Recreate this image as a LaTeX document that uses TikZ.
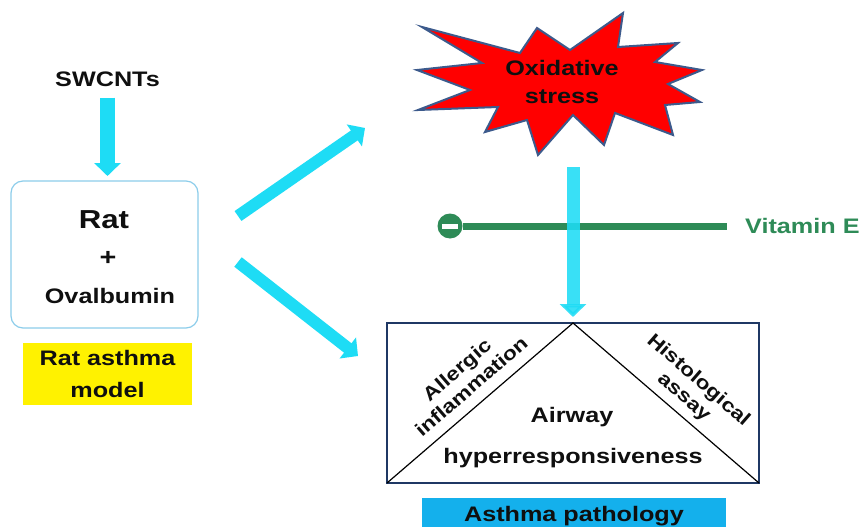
\documentclass[tikz,border=0pt]{standalone}
\usepackage{fontspec}
\newfontfamily\diagfont[FakeStretch=1.2]{Liberation Sans}
\usetikzlibrary{arrows.meta}

\definecolor{flowcyan}{RGB}{30,220,245}
\definecolor{pathcyan}{RGB}{20,176,236}
\definecolor{vitgreen}{RGB}{46,139,87}
\definecolor{starred}{RGB}{255,0,0}
\definecolor{starline}{RGB}{60,90,140}
\definecolor{boxnavy}{RGB}{31,56,100}
\definecolor{ratblue}{RGB}{140,205,235}
\definecolor{textdark}{RGB}{15,15,15}

\begin{document}
\begin{tikzpicture}[x=1pt, y=-1pt,
    txt/.style={font=\diagfont\bfseries\fontsize{21}{28}\selectfont, text=textdark, align=center, inner sep=0pt},
    slanted/.style={txt, font=\diagfont\bfseries\fontsize{19}{22}\selectfont},
    ratbox/.style={rectangle, rounded corners=12pt, draw=ratblue, line width=1.2pt, minimum width=187pt, minimum height=147pt, outer sep=0pt},
    modelbox/.style={txt, fill=yellow, minimum width=169pt, minimum height=62pt, font=\diagfont\bfseries\fontsize{21}{32}\selectfont},
    pathbox/.style={rectangle, draw=boxnavy, line width=2pt, minimum width=372pt, minimum height=160pt, outer sep=0pt},
    pathlabel/.style={txt, fill=pathcyan, minimum width=304pt, minimum height=37pt},
    stop/.style={circle, fill=vitgreen, minimum size=25pt, inner sep=0pt,
        path picture={\fill[white] ([xshift=-8pt,yshift=-2.5pt]path picture bounding box.center) rectangle ([xshift=8pt,yshift=2.5pt]path picture bounding box.center);}},
    flow/.style={-{Triangle[width=26pt, length=13pt]}, line width=13pt, flowcyan},
    inhibit/.style={vitgreen, line width=7pt},
    starburst/.style={fill=starred, draw=starline, line width=2pt, line join=miter},
]
\path[use as bounding box, clip] (0,0) rectangle (862,527);
\fill[white] (0,0) rectangle (862,527);

% Rat model
\node[txt] (swcnts) at (107.5,79) {SWCNTs};
\node[ratbox] (ratbox) at (104.5,254.5) {};
\node[txt, font=\diagfont\bfseries\fontsize{26}{28}\selectfont] (rat) at (104,220) {Rat};
\node[txt, font=\diagfont\bfseries\fontsize{24}{28}\selectfont] (plus) at (108,258) {+};
\node[txt] (ova) at (110,296) {Ovalbumin};
\node[modelbox] (model) at (107.5,374) {Rat asthma\\model};

% Oxidative stress
\draw[starburst] (422,27) -- (520,53) -- (537,28) -- (570,50) -- (623,13) -- (618,47)
    -- (678,43) -- (655,62) -- (702,70) -- (668,84) -- (700,102) -- (665,105)
    -- (673,135) -- (615,113) -- (604,145) -- (573,115) -- (538,155) -- (527,120)
    -- (485,132) -- (498,107) -- (418,110) -- (470,90) -- (417,70) -- (482,63) -- cycle;
\node[txt] (stress) at (562,82) {Oxidative\\stress};

% Asthma pathology
\node[pathbox] (patho) at (573,403) {};
\draw[black, line width=1.2pt] (patho.south west) -- (patho.north) -- (patho.south east);
\node[slanted, rotate=41] (allergic) at (464,378) {Allergic\\inflammation};
\node[slanted, rotate=-41] (histo) at (691,389) {Histological\\assay};
\node[txt] (airway) at (572,417) {Airway};
\node[txt] (hyper) at (573,458) {hyperresponsiveness};
\node[pathlabel] (pathlabel) at (574,516.5) {Asthma pathology};

% Vitamin E
\node[stop] (stopmark) at (450,226) {};
\node[txt, text=vitgreen, anchor=west] (vite) at (745,226) {Vitamin E};
\draw[inhibit] (stopmark.east) -- ([xshift=-18pt]vite.west);

% arrows
\coordinate (forkup) at (238,216);
\coordinate (uptip) at (365,128);
\coordinate (forkdown) at (238,262);
\coordinate (downtip) at (358,356);
\coordinate (starfoot) at (573,167);
\draw[flow, line width=15pt] ([yshift=-11pt]swcnts.south) -- ([yshift=5pt]swcnts.south |- ratbox.north);
\draw[flow, line width=12pt] (forkup) -- (uptip);
\draw[flow, line width=12pt] (forkdown) -- (downtip);
\draw[flow, opacity=0.88] (starfoot) -- ([yshift=6pt]patho.north);
\end{tikzpicture}
\end{document}
